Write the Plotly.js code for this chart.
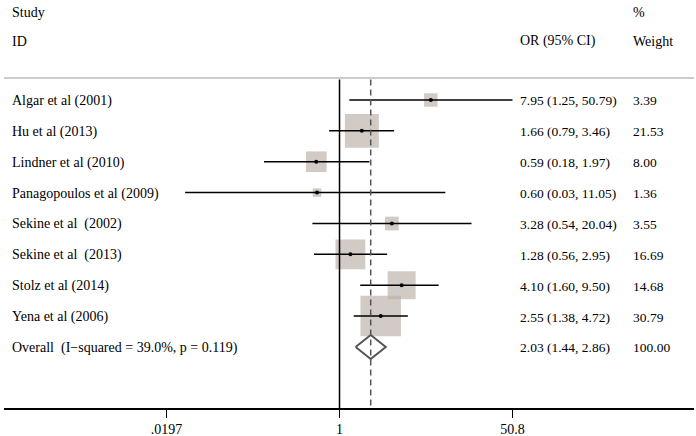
<!DOCTYPE html>
<html><head><meta charset="utf-8">
<script src="https://cdn.plot.ly/plotly-3.0.1.min.js"></script>
<style>html,body{margin:0;padding:0;background:#fff}</style>
</head><body>
<div id="chart" style="width:696px;height:436px"></div>
<script>
const studies = ["Algar et al (2001)", "Hu et al (2013)", "Lindner et al (2010)", "Panagopoulos et al (2009)", "Sekine et al  (2002)", "Sekine et al  (2013)", "Stolz et al (2014)", "Yena et al (2006)"];
const orVals = [7.95, 1.66, 0.59, 0.60, 3.28, 1.28, 4.10, 2.55];
const ciLow = [1.25, 0.79, 0.18, 0.03, 0.54, 0.56, 1.60, 1.38];
const ciHigh = [50.79, 3.46, 1.97, 11.05, 20.04, 2.95, 9.50, 4.72];
const weights = [3.39, 21.53, 8.00, 1.36, 3.55, 16.69, 14.68, 30.79];
const overallLabel = "Overall  (I\u2212squared = 39.0%, p = 0.119)";
const overallOR = 2.03, overallLow = 1.44, overallHigh = 2.86, overallWeight = 100.00;
const tickVals = [0.0197, 1, 50.8];
const tickText = [".0197", "1", "50.8"];

const rows = studies.map((s, i) => i);
const overallRow = studies.length;
const font = {family: "'Liberation Serif', serif", size: 14, color: "#000"};
const numFont = {family: "'Liberation Serif', serif", size: 13.5, color: "#000"};

const boxes = {
  x: orVals, y: rows, type: "scatter", mode: "markers", hoverinfo: "skip",
  marker: {symbol: "square", color: "#bdb3ad", size: weights.map(w => 7.3 * Math.sqrt(w)), line: {width: 0}}
};
const points = {
  x: orVals, y: rows, type: "scatter", mode: "markers", hoverinfo: "skip",
  marker: {symbol: "circle", color: "#000", size: 4},
  error_x: {type: "data", symmetric: false,
    array: orVals.map((v, i) => ciHigh[i] - v),
    arrayminus: orVals.map((v, i) => v - ciLow[i]),
    width: 0, thickness: 1.5, color: "#000"}
};
const dh = 0.39;
const diamond = {
  x: [overallLow, overallOR, overallHigh, overallOR, overallLow],
  y: [overallRow, overallRow - dh, overallRow, overallRow + dh, overallRow],
  type: "scatter", mode: "lines", hoverinfo: "skip",
  line: {color: "#555", width: 2}
};

const annotations = [];
function txt(text, x, y, f) {
  annotations.push({text, x, y: y + 0.03, xref: "paper", yref: "y", xanchor: "left", yanchor: "middle", showarrow: false, font: f || font, borderpad: 0});
}
const xStudy = 0.0105, xOR = 0.7468, xW = 0.9105;
txt("Study", xStudy, -2.85);
txt("ID", xStudy, -1.94);
txt("OR (95% CI)", xOR, -1.94);
txt("%", xW, -2.85);
txt("Weight", xW, -1.94);
studies.forEach((s, i) => {
  txt(s, xStudy, rows[i]);
  txt(orVals[i].toFixed(2) + " (" + ciLow[i].toFixed(2) + ", " + ciHigh[i].toFixed(2) + ")", xOR, rows[i], numFont);
  txt(weights[i].toFixed(2), xW, rows[i], numFont);
});
txt(overallLabel, xStudy, overallRow);
txt(overallOR.toFixed(2) + " (" + overallLow.toFixed(2) + ", " + overallHigh.toFixed(2) + ")", xOR, overallRow, numFont);
txt(overallWeight.toFixed(2), xW, overallRow, numFont);

const yTop = -3.239, yBot = 9.976, yLine = -0.71;
const shapes = [
  {type: "line", xref: "paper", yref: "y", x0: 0, x1: 1, y0: yLine, y1: yLine, line: {color: "#bbbbbb", width: 1.5}},
  {type: "line", xref: "x", yref: "y", x0: 1, x1: 1, y0: yLine + 0.05, y1: yBot, line: {color: "#000", width: 1.5}},
  {type: "line", xref: "x", yref: "y", x0: overallOR, x1: overallOR, y0: yLine + 0.05, y1: yBot, line: {color: "#555", width: 1.5, dash: "6px,4px"}}
];

const layout = {
  width: 696, height: 436,
  margin: {l: 4, r: 2, t: 0, b: 28},
  paper_bgcolor: "#fff", plot_bgcolor: "#fff",
  showlegend: false, hovermode: false,
  font,
  xaxis: {type: "log", range: [-3.309, 3.496], showgrid: false, zeroline: false,
    showline: true, linecolor: "#000", linewidth: 1.5,
    tickmode: "array", tickvals: tickVals, ticktext: tickText,
    ticks: "outside", ticklen: 8, tickwidth: 1.5, tickcolor: "#000", tickfont: font},
  yaxis: {range: [yBot, yTop], visible: false, showgrid: false, zeroline: false},
  annotations, shapes
};
Plotly.newPlot("chart", [boxes, points, diamond], layout, {displayModeBar: false, staticPlot: true});
</script>
</body></html>
